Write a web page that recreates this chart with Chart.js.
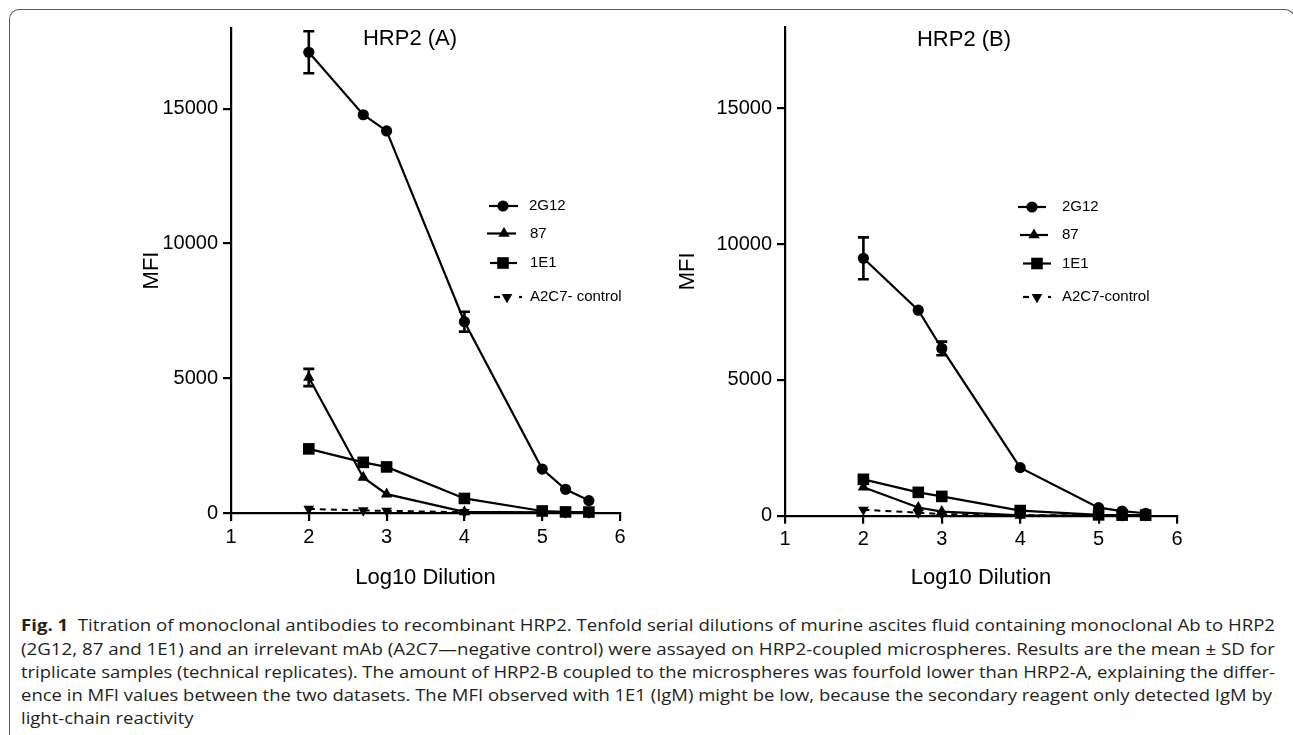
<!DOCTYPE html>
<html><head><meta charset="utf-8">
<script src="https://cdn.jsdelivr.net/npm/chart.js@4.4.1/dist/chart.umd.min.js"></script>
<style>
html,body{margin:0;padding:0;background:#fff;width:1293px;height:735px;overflow:hidden;position:relative;}
#frame{position:absolute;left:9px;top:9px;width:1286px;height:760px;border-top:1.4px solid #5a5a5a;border-left:1.4px solid #5a5a5a;border-right:1.4px solid #5a5a5a;border-radius:10px 10px 0 0;box-sizing:border-box;}
canvas{position:absolute;}
.cap{position:absolute;left:21px;font-family:'Open Sans','Noto Sans',sans-serif;font-size:15.5px;line-height:20px;white-space:nowrap;transform-origin:0 50%;color:#231f20;}
.cap b{font-weight:700;}
</style></head>
<body>
<div id="frame"></div>
<canvas id="cA" width="530" height="590" style="left:130px;top:10px;width:530px;height:590px"></canvas>
<canvas id="cB" width="560" height="590" style="left:670px;top:10px;width:560px;height:590px"></canvas>
<div class="cap" style="top:615px"><b>Fig. 1</b>&nbsp; Titration of monoclonal antibodies to recombinant HRP2. Tenfold serial dilutions of murine ascites fluid containing monoclonal Ab to HRP2</div>
<div class="cap" style="top:639px">(2G12, 87 and 1E1) and an irrelevant mAb (A2C7—negative control) were assayed on HRP2-coupled microspheres. Results are the mean ± SD for</div>
<div class="cap" style="top:662px">triplicate samples (technical replicates). The amount of HRP2-B coupled to the microspheres was fourfold lower than HRP2-A, explaining the differ-</div>
<div class="cap" style="top:685px">ence in MFI values between the two datasets. The MFI observed with 1E1 (IgM) might be low, because the secondary reagent only detected IgM by</div>
<div class="cap" style="top:708px">light-chain reactivity</div>
<script>
// ---------- DATA ----------
const dilutionLog10 = [2, 2.7, 3, 4, 5, 5.3, 5.6];
const xTickValues = [1, 2, 3, 4, 5, 6];
const yTickValues = [0, 5000, 10000, 15000];

const namesA = ['2G12', '87', '1E1', 'A2C7- control'];
const namesB = ['2G12', '87', '1E1', 'A2C7-control'];

// HRP2 (A)
const a2G12   = [17100, 14780, 14180, 7100, 1630, 880, 460];
const a2G12SD = [780, 0, 0, 370, 0, 0, 0];
const a87     = [5030, 1320, 700, 40, 20, 15, 10];
const a87SD   = [320, 0, 0, 0, 0, 0, 0];
const a1E1    = [2380, 1880, 1710, 540, 75, 40, 35];
const aA2C7   = [150, 95, 80, 30, 20, 15, 10];

// HRP2 (B)
const b2G12   = [9480, 7570, 6160, 1770, 295, 170, 90];
const b2G12SD = [770, 0, 250, 0, 0, 0, 0];
const b87     = [1050, 300, 150, 10, 5, 5, 5];
const b1E1    = [1340, 860, 710, 190, 30, 20, 20];
const bA2C7   = [220, 110, 60, 20, 10, 10, 10];

// ---------- STYLE / LAYOUT ----------
const FONT = "'Liberation Sans', Arial, sans-serif";
const styles = [
  {pointStyle:'circle',   radius:5.6, rotation:0,   dash:[]},
  {pointStyle:'triangle', radius:6.6, rotation:0,   dash:[]},
  {pointStyle:'rect',     radius:8.2, rotation:0,   dash:[]},
  {pointStyle:'triangle', radius:6.2, rotation:180, dash:[6,5]}
];

function pts(vals){ return dilutionLog10.map((x,i)=>({x:x, y:vals[i]})); }

function drawMarker(ctx, st, x, y){
  ctx.save();
  ctx.fillStyle='#000';
  ctx.beginPath();
  const r = st.radius;
  if(st.pointStyle==='circle'){ ctx.arc(x,y,r,0,Math.PI*2); }
  else if(st.pointStyle==='rect'){ const s=r*Math.SQRT1_2; ctx.rect(x-s,y-s,2*s,2*s); }
  else { const rad = st.rotation*Math.PI/180; for(let k=0;k<3;k++){ const a=rad+k*2*Math.PI/3; const px=x+Math.sin(a)*r, py=y-Math.cos(a)*r; if(k===0) ctx.moveTo(px,py); else ctx.lineTo(px,py);} ctx.closePath(); }
  ctx.fill();
  ctx.restore();
}

function makeChart(id, cfg){
  const canvas = document.getElementById(id);
  const offX = parseFloat(canvas.style.left), offY = parseFloat(canvas.style.top);
  const series = [cfg.s2G12, cfg.s87, cfg.s1E1, cfg.sA2C7];
  const sds = [cfg.sd2G12, cfg.sd87, null, null];
  const datasets = series.map((vals,i)=>({
    label: cfg.names[i],
    data: pts(vals),
    sd: sds[i],
    showLine: true,
    borderColor:'#000',
    borderWidth: i===3 ? 2 : 2.2,
    borderDash: styles[i].dash,
    pointStyle: styles[i].pointStyle,
    pointRadius: styles[i].radius,
    pointRotation: styles[i].rotation,
    pointBackgroundColor:'#000',
    pointBorderColor:'#000',
    pointBorderWidth:0,
    tension:0,
    clip:false
  }));
  const overlay = {
    id:'overlay'+id,
    afterDatasetsDraw(chart){
      const ctx = chart.ctx;
      const xs = chart.scales.x, ys = chart.scales.y;
      // error bars
      ctx.save();
      ctx.strokeStyle='#000'; ctx.lineWidth=2.6; ctx.lineCap='butt';
      chart.data.datasets.forEach(ds=>{
        if(!ds.sd) return;
        ds.data.forEach((p,i)=>{
          const sd = ds.sd[i]; if(!sd) return;
          const px = xs.getPixelForValue(p.x);
          const yt = ys.getPixelForValue(p.y+sd), yb = ys.getPixelForValue(p.y-sd);
          ctx.beginPath();
          ctx.moveTo(px,yt); ctx.lineTo(px,yb);
          ctx.moveTo(px-5.5,yt); ctx.lineTo(px+5.5,yt);
          ctx.moveTo(px-5.5,yb); ctx.lineTo(px+5.5,yb);
          ctx.stroke();
        });
      });
      ctx.restore();
      // panel title
      ctx.save();
      ctx.fillStyle='#000'; ctx.font='22px '+FONT; ctx.textAlign='center'; ctx.textBaseline='middle';
      ctx.fillText(cfg.title, cfg.titleX-offX, cfg.titleY-offY);
      ctx.restore();
      // legend
      ctx.save();
      cfg.legend.forEach((row,i)=>{
        const y = row.y-offY;
        ctx.strokeStyle='#000'; ctx.lineWidth=2.2;
        if(i<3){
          ctx.beginPath(); ctx.moveTo(row.x1-offX,y); ctx.lineTo(row.x2-offX,y); ctx.stroke();
        } else {
          ctx.beginPath(); ctx.moveTo(row.x1-offX,y); ctx.lineTo(row.x1+6-offX,y); ctx.stroke();
          ctx.beginPath(); ctx.moveTo(row.x2-3-offX,y); ctx.lineTo(row.x2-offX,y); ctx.stroke();
        }
        drawMarker(ctx, styles[i], row.m-offX, y);
        ctx.fillStyle='#000'; ctx.font='15px '+FONT; ctx.textAlign='left'; ctx.textBaseline='middle';
        ctx.fillText(chart.data.datasets[i].label, row.t-offX, y);
      });
      ctx.restore();
    }
  };
  return new Chart(canvas, {
    type:'scatter',
    data:{datasets},
    plugins:[overlay],
    options:{
      responsive:false, animation:false, devicePixelRatio:1,
      layout:{padding:{left:0, right:cfg.padRight, top:cfg.padTop, bottom:0}},
      plugins:{legend:{display:false}, tooltip:{enabled:false}, title:{display:false}},
      scales:{
        x:{
          type:'linear', min:1, max:6,
          afterBuildTicks(s){ s.ticks = xTickValues.map(v=>({value:v})); },
          afterFit(s){ s.height = cfg.xAxisH; },
          grid:{drawOnChartArea:false, drawTicks:true, tickLength:8, color:'#000', lineWidth:2.2},
          border:{display:true, color:'#000', width:2.2},
          ticks:{color:'#000', font:{family:FONT, size:20}, padding:4, callback:v=>String(v)},
          title:{display:true, text:'Log10 Dilution', color:'#000', font:{family:FONT, size:22}, padding:{top:0,bottom:cfg.xTitlePad}}
        },
        y:{
          type:'linear', min:0, max:18000,
          afterBuildTicks(s){ s.ticks = yTickValues.map(v=>({value:v})); },
          afterFit(s){ s.width = cfg.yAxisW; },
          grid:{drawOnChartArea:false, drawTicks:true, tickLength:8, color:'#000', lineWidth:2.2},
          border:{display:true, color:'#000', width:2.2},
          ticks:{color:'#000', font:{family:FONT, size:20}, padding:5, callback:v=>String(v)},
          title:{display:true, text:'MFI', color:'#000', font:{family:FONT, size:22}, padding:{top:cfg.yTitlePad,bottom:0}}
        }
      }
    }
  });
}

makeChart('cA', {
  s2G12:a2G12, sd2G12:a2G12SD, s87:a87, sd87:a87SD, s1E1:a1E1, sA2C7:aA2C7, names:namesA,
  title:'HRP2 (A)', titleX:410, titleY:39,
  padRight:40, padTop:18, xAxisH:87, yAxisW:101, xTitlePad:9, yTitlePad:9,
  legend:[
    {y:206, x1:489, x2:518, m:503, t:529},
    {y:233.5, x1:487, x2:516, m:504, t:530},
    {y:263, x1:490, x2:517, m:503, t:530},
    {y:297, x1:494, x2:522, m:507, t:530}
  ]
});
makeChart('cB', {
  s2G12:b2G12, sd2G12:b2G12SD, s87:b87, sd87:null, s1E1:b1E1, sA2C7:bA2C7, names:namesB,
  title:'HRP2 (B)', titleX:964, titleY:40,
  padRight:53, padTop:16, xAxisH:84.3, yAxisW:115, xTitlePad:9, yTitlePad:5,
  legend:[
    {y:207, x1:1018, x2:1046, m:1032, t:1062},
    {y:235, x1:1020, x2:1048, m:1034, t:1062},
    {y:263.5, x1:1023, x2:1051, m:1037, t:1062},
    {y:297, x1:1023, x2:1051, m:1037, t:1062}
  ]
});

// caption line fitting (justified lines 1-4, last line uses line 4 scale)
const capTargets = [1254, 1254, 1254, 1251];
const caps = document.querySelectorAll('.cap');
let lastScale = 1;
caps.forEach((el,i)=>{
  const w = el.getBoundingClientRect().width;
  const s = i < capTargets.length ? capTargets[i]/w : lastScale;
  lastScale = s;
  el.style.transform = 'scaleX(' + s + ')';
});
</script>
</body></html>
